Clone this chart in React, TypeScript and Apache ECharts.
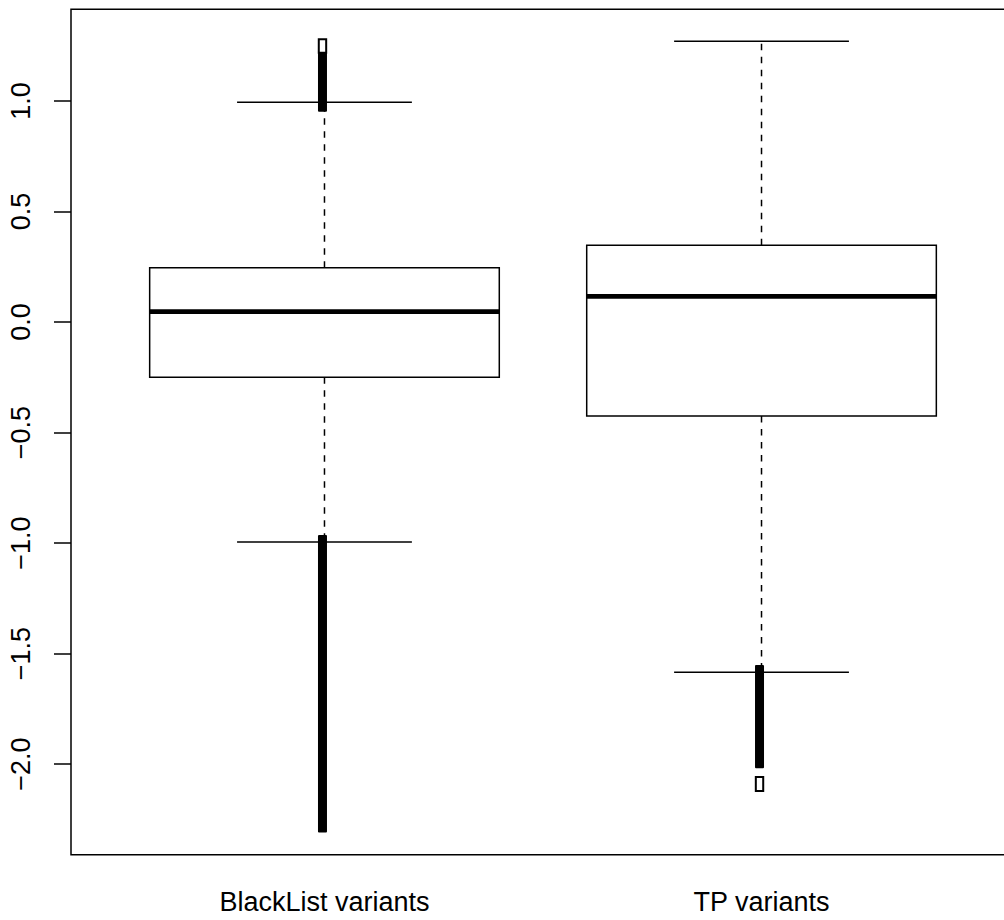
import React, { useEffect, useRef } from "react";
import * as echarts from "echarts";

// ---- data ----
const categories = ["BlackList variants", "TP variants"];
const lowerWhisker = [-0.995, -1.585];
const q1 = [-0.25, -0.425];
const median = [0.047, 0.116];
const q3 = [0.246, 0.347];
const upperWhisker = [0.994, 1.271];
// runs of densely overlapping outliers: [category index (1-based), lowest, highest]
const denseOutlierRuns = [
  [1, 0.972, 1.21],
  [1, -2.289, -0.984],
  [2, -1.999, -1.572],
];
// small groups of separate outliers drawn as hollow marks: [category index, lowest, highest]
const hollowOutlierRuns = [
  [1, 1.235, 1.263],
  [2, -2.105, -2.075],
];
const yTicks = [-2, -1.5, -1, -0.5, 0, 0.5, 1];
const xTicks = [1, 2];

const Y_MIN = -2.41;
const Y_MAX = 1.415;
const X_MIN = 0.42;
const X_MAX = 2.58;

const FONT = "'Liberation Sans', Arial, Helvetica, sans-serif";

export default function App() {
  const ref = useRef<HTMLDivElement>(null);
  useEffect(() => {
    if (!ref.current) return;
    const chart = echarts.init(ref.current, null, { renderer: "svg" });
    const boxData = categories.map((_, i) => [
      i + 1,
      lowerWhisker[i],
      q1[i],
      median[i],
      q3[i],
      upperWhisker[i],
    ]);
    const option: any = {
      animation: false,
      backgroundColor: "#ffffff",
      grid: {
        left: 71,
        right: 15,
        top: 9.3,
        bottom: 65.3,
        show: true,
        borderColor: "#000",
        borderWidth: 1.5,
        backgroundColor: "transparent",
      },
      xAxis: {
        type: "value",
        min: X_MIN,
        max: X_MAX,
        axisLine: { show: false },
        splitLine: { show: false },
        axisTick: {
          show: true,
          length: 17,
          inside: false,
          customValues: xTicks,
          lineStyle: { color: "#000", width: 1.5 },
        },
        axisLabel: {
          show: true,
          customValues: xTicks,
          margin: 34,
          color: "#000",
          fontSize: 27,
          fontFamily: FONT,
          formatter: (v: number) => categories[Math.round(v) - 1] ?? "",
        },
      },
      yAxis: {
        type: "value",
        min: Y_MIN,
        max: Y_MAX,
        axisLine: { show: false },
        splitLine: { show: false },
        axisTick: {
          show: true,
          length: 17,
          inside: false,
          customValues: yTicks,
          lineStyle: { color: "#000", width: 1.5 },
        },
        axisLabel: {
          show: true,
          customValues: yTicks,
          rotate: 90,
          margin: 37,
          color: "#000",
          fontSize: 27,
          fontFamily: FONT,
          formatter: (v: number) => v.toFixed(1).replace("-", "\u2212"),
        },
      },
      series: [
        {
          type: "custom",
          coordinateSystem: "cartesian2d",
          data: boxData,
          encode: { x: 0, y: [1, 2, 3, 4, 5] },
          renderItem: (params: any, api: any) => {
            const x = api.value(0);
            const lw = api.value(1);
            const a = api.value(2);
            const m = api.value(3);
            const b = api.value(4);
            const uw = api.value(5);
            const c = api.coord([x, 0])[0];
            const half = api.size([0.4, 0])[0];
            const cap = api.size([0.2, 0])[0];
            const y = (v: number) => api.coord([x, v])[1];
            const thin = { stroke: "#000", lineWidth: 1.5 };
            const dashed = { stroke: "#000", lineWidth: 1.5, lineDash: [6.5, 6.5] };
            return {
              type: "group",
              children: [
                { type: "line", shape: { x1: c, y1: y(b), x2: c, y2: y(uw) }, style: dashed },
                { type: "line", shape: { x1: c, y1: y(a), x2: c, y2: y(lw) }, style: dashed },
                { type: "line", shape: { x1: c - cap, y1: y(uw), x2: c + cap, y2: y(uw) }, style: thin },
                { type: "line", shape: { x1: c - cap, y1: y(lw), x2: c + cap, y2: y(lw) }, style: thin },
                {
                  type: "rect",
                  shape: { x: c - half, y: y(b), width: 2 * half, height: y(a) - y(b) },
                  style: { fill: "#fff", stroke: "#000", lineWidth: 1.5 },
                },
                {
                  type: "line",
                  shape: { x1: c - half, y1: y(m), x2: c + half, y2: y(m) },
                  style: { stroke: "#000", lineWidth: 4.7 },
                },
              ],
            };
          },
          z: 2,
        },
        {
          type: "custom",
          coordinateSystem: "cartesian2d",
          data: denseOutlierRuns,
          encode: { x: 0, y: [1, 2] },
          renderItem: (params: any, api: any) => {
            const x = api.value(0);
            const lo = api.value(1);
            const hi = api.value(2);
            const c = api.coord([x, 0])[0] - 2;
            const yTop = api.coord([x, hi])[1] - 4.5;
            const yBot = api.coord([x, lo])[1] + 4.5;
            return {
              type: "rect",
              shape: { x: c - 4.5, y: yTop, width: 9, height: yBot - yTop, r: 1 },
              style: { fill: "#000", stroke: "none" },
            };
          },
          z: 3,
        },
        {
          type: "custom",
          coordinateSystem: "cartesian2d",
          data: hollowOutlierRuns,
          encode: { x: 0, y: [1, 2] },
          renderItem: (params: any, api: any) => {
            const x = api.value(0);
            const lo = api.value(1);
            const hi = api.value(2);
            const c = api.coord([x, 0])[0] - 2;
            const yTop = api.coord([x, hi])[1] - 3.7;
            const yBot = api.coord([x, lo])[1] + 3.7;
            return {
              type: "rect",
              shape: { x: c - 3.7, y: yTop, width: 7.4, height: yBot - yTop },
              style: { fill: "#fff", stroke: "#000", lineWidth: 2 },
            };
          },
          z: 4,
        },
      ],
    };
    chart.setOption(option);
    return () => chart.dispose();
  }, []);
  return (
    <div
      style={{
        position: "fixed",
        left: 0,
        top: 0,
        width: 1004,
        height: 920,
        overflow: "hidden",
        background: "#fff",
      }}
    >
      <div ref={ref} style={{ width: 1030, height: 920 }} />
    </div>
  );
}
